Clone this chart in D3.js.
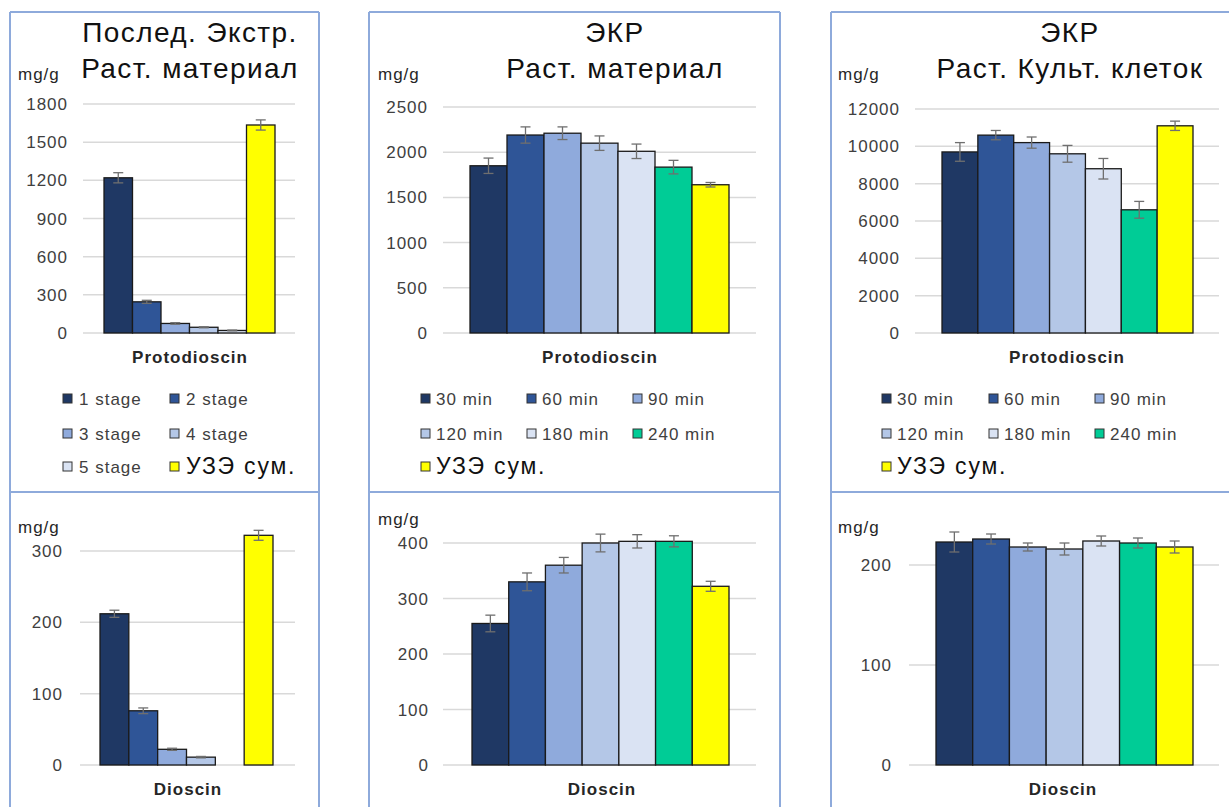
<!DOCTYPE html>
<html>
<head>
<meta charset="utf-8">
<script src="https://cdn.jsdelivr.net/npm/d3@7"></script>
<style>
  body { margin: 0; background: #fff; }
  svg { display: block; font-family: "Liberation Sans", Arial, sans-serif; }
</style>
</head>
<body>
<svg id="canvas"></svg>
<script>
// canvas
const width = 1229, height = 807;

// categories
const stageLabels = ["1 stage", "2 stage", "3 stage", "4 stage", "5 stage", "УЗЭ сум."];
const timeLabels = ["30 min", "60 min", "90 min", "120 min", "180 min", "240 min", "УЗЭ сум."];

// Послед. Экстр. Раст. материал
const seqProto = [1220, 245, 75, 45, 20, 1635];
const seqProtoErr = [40, 12, 6, 4, 3, 40];
const seqDio = [212, 76, 22, 11, 0, 322];
const seqDioErr = [5, 4, 1.5, 1, 0, 7];

// ЭКР Раст. материал
const ekrProto = [1850, 2190, 2210, 2100, 2010, 1835, 1640];
const ekrProtoErr = [85, 90, 70, 80, 80, 75, 25];
const ekrDio = [255, 330, 360, 400, 403, 403, 322];
const ekrDioErr = [15, 16, 14, 16, 12, 10, 9];

// ЭКР Раст. Культ. клеток
const cellProto = [9700, 10600, 10200, 9600, 8800, 6600, 11100];
const cellProtoErr = [500, 250, 300, 450, 550, 450, 250];
const cellDio = [223, 226, 218, 216, 224, 222, 218];
const cellDioErr = [10, 5, 4, 6, 5, 5, 6];

// colours
const stageColors = ["#1f3864", "#2f5597", "#8faadc", "#b4c7e7", "#dae3f3", "#ffff00"];
const timeColors = ["#1f3864", "#2f5597", "#8faadc", "#b4c7e7", "#dae3f3", "#00cc96", "#ffff00"];

const borderColor = "#8eaadb";
const tickColor = "#404040";

const svg = d3.select("#canvas")
    .attr("width", width)
    .attr("height", height);

// panel frames
function drawFrame(x0, x1, hasRight) {
    const g = svg.append("g")
        .attr("fill", "none")
        .attr("stroke", borderColor)
        .attr("stroke-width", 2);
    g.append("line").attr("x1", x0).attr("x2", x0).attr("y1", 12).attr("y2", height);
    if (hasRight) g.append("line").attr("x1", x1).attr("x2", x1).attr("y1", 12).attr("y2", height);
    g.append("line").attr("x1", x0).attr("x2", x1).attr("y1", 12).attr("y2", 12);
    g.append("line").attr("x1", x0).attr("x2", x1).attr("y1", 492).attr("y2", 492);
}
drawFrame(10, 319, true);
drawFrame(369, 780, true);
drawFrame(831, width, false);

// one bar chart
function drawChart(o) {
    const y = d3.scaleLinear().domain(o.domain).range(o.yRange);
    const x = d3.scaleBand().domain(o.labels).range(o.barRange).padding(0);
    const g = svg.append("g");

    // gridlines + tick labels
    const ticks = d3.range(o.domain[0], o.domain[1] + 1, o.step);
    g.selectAll(".grid").data(ticks).enter().append("line")
        .attr("x1", o.gridRange[0]).attr("x2", o.gridRange[1])
        .attr("y1", d => y(d)).attr("y2", d => y(d))
        .attr("stroke", "#d9d9d9").attr("stroke-width", 1.5);
    g.selectAll(".tick").data(ticks).enter().append("text")
        .attr("x", o.tickX + 1).attr("y", d => y(d) + 6)
        .attr("text-anchor", "end")
        .attr("font-size", 17).attr("letter-spacing", 1).attr("fill", tickColor)
        .text(d => d);

    // unit
    g.append("text").attr("x", o.unitX).attr("y", o.unitY)
        .attr("font-size", 17).attr("letter-spacing", 1).attr("fill", "#262626").text("mg/g");

    // bars
    const data = o.labels.map((l, i) => ({ label: l, v: o.values[i], e: o.errors[i], c: o.colors[i] }));
    g.selectAll(".bar").data(data.filter(d => d.v > 0)).enter().append("rect")
        .attr("x", d => x(d.label))
        .attr("width", x.bandwidth())
        .attr("y", d => y(d.v))
        .attr("height", d => y(0) - y(d.v))
        .attr("fill", d => d.c)
        .attr("stroke", "#1a1a1a").attr("stroke-width", 1.3);

    // error bars
    const eb = g.selectAll(".err").data(data.filter(d => d.e > 0)).enter().append("g")
        .attr("stroke", "#6f6f6f").attr("stroke-width", 1.3);
    const cx = d => x(d.label) + x.bandwidth() / 2;
    eb.append("line").attr("x1", cx).attr("x2", cx)
        .attr("y1", d => y(d.v - d.e)).attr("y2", d => y(d.v + d.e));
    eb.append("line").attr("x1", d => cx(d) - 5).attr("x2", d => cx(d) + 5)
        .attr("y1", d => y(d.v - d.e)).attr("y2", d => y(d.v - d.e));
    eb.append("line").attr("x1", d => cx(d) - 5).attr("x2", d => cx(d) + 5)
        .attr("y1", d => y(d.v + d.e)).attr("y2", d => y(d.v + d.e));

    // category label
    g.append("text").attr("x", o.catX).attr("y", o.catY)
        .attr("text-anchor", "middle").attr("font-weight", "bold")
        .attr("font-size", 17).attr("letter-spacing", 1).attr("fill", "#262626").text(o.category);
}

function drawTitle(lines, cx) {
    svg.append("g").selectAll("text").data(lines).enter().append("text")
        .attr("x", cx).attr("y", (d, i) => 42 + i * 36)
        .attr("text-anchor", "middle")
        .attr("font-size", 28).attr("letter-spacing", 1.4).attr("fill", "#111")
        .text(d => d);
}

function drawLegend(labels, colors, colX, textOff, rowY) {
    const items = labels.map((l, i) => ({ l, c: colors[i], col: i % colX.length, row: Math.floor(i / colX.length) }));
    const g = svg.append("g");
    const it = g.selectAll("g").data(items).enter().append("g")
        .attr("transform", d => `translate(${colX[d.col]},${rowY[d.row]})`);
    it.append("rect").attr("x", 0).attr("y", -11).attr("width", 9).attr("height", 9)
        .attr("fill", d => d.c).attr("stroke", "#333").attr("stroke-width", 1);
    it.append("text").attr("x", textOff).attr("y", d => d.l === "УЗЭ сум." ? 1 : 0)
        .attr("font-size", d => d.l === "УЗЭ сум." ? 23 : 17)
        .attr("letter-spacing", d => d.l === "УЗЭ сум." ? 1.8 : 1)
        .attr("fill", d => d.l === "УЗЭ сум." ? "#111" : tickColor)
        .text(d => d.l);
}

// left column
drawTitle(["Послед. Экстр.", "Раст. материал"], 190);
drawChart({
    labels: stageLabels, values: seqProto, errors: seqProtoErr, colors: stageColors,
    domain: [0, 1800], step: 300, yRange: [333, 104],
    barRange: [104, 275], gridRange: [83, 295], tickX: 67,
    unitX: 18, unitY: 80, category: "Protodioscin", catX: 190, catY: 363
});
drawLegend(stageLabels, stageColors, [63, 170], 16, [405, 440, 473]);
drawChart({
    labels: stageLabels, values: seqDio, errors: seqDioErr, colors: stageColors,
    domain: [0, 300], step: 100, yRange: [765, 551],
    barRange: [100, 273], gridRange: [80, 295], tickX: 62,
    unitX: 18, unitY: 533, category: "Dioscin", catX: 188, catY: 795
});

// middle column
drawTitle(["ЭКР", "Раст. материал"], 615);
drawChart({
    labels: timeLabels, values: ekrProto, errors: ekrProtoErr, colors: timeColors,
    domain: [0, 2500], step: 500, yRange: [333, 107],
    barRange: [470, 729], gridRange: [443, 756], tickX: 427,
    unitX: 378, unitY: 80, category: "Protodioscin", catX: 600, catY: 363
});
drawLegend(timeLabels, timeColors, [421, 527, 633], 15, [405, 440, 473]);
drawChart({
    labels: timeLabels, values: ekrDio, errors: ekrDioErr, colors: timeColors,
    domain: [0, 400], step: 100, yRange: [765, 543],
    barRange: [472, 729], gridRange: [443, 756], tickX: 428,
    unitX: 378, unitY: 525, category: "Dioscin", catX: 602, catY: 795
});

// right column
drawTitle(["ЭКР", "Раст. Культ. клеток"], 1070);
drawChart({
    labels: timeLabels, values: cellProto, errors: cellProtoErr, colors: timeColors,
    domain: [0, 12000], step: 2000, yRange: [333, 109],
    barRange: [942, 1193], gridRange: [915, 1219], tickX: 899,
    unitX: 838, unitY: 80, category: "Protodioscin", catX: 1067, catY: 363
});
drawLegend(timeLabels, timeColors, [882, 989, 1095], 15, [405, 440, 473]);
drawChart({
    labels: timeLabels, values: cellDio, errors: cellDioErr, colors: timeColors,
    domain: [0, 200], step: 100, yRange: [765, 565],
    barRange: [936, 1193], gridRange: [909, 1219], tickX: 891,
    unitX: 838, unitY: 533, category: "Dioscin", catX: 1063, catY: 795
});
</script>
</body>
</html>
